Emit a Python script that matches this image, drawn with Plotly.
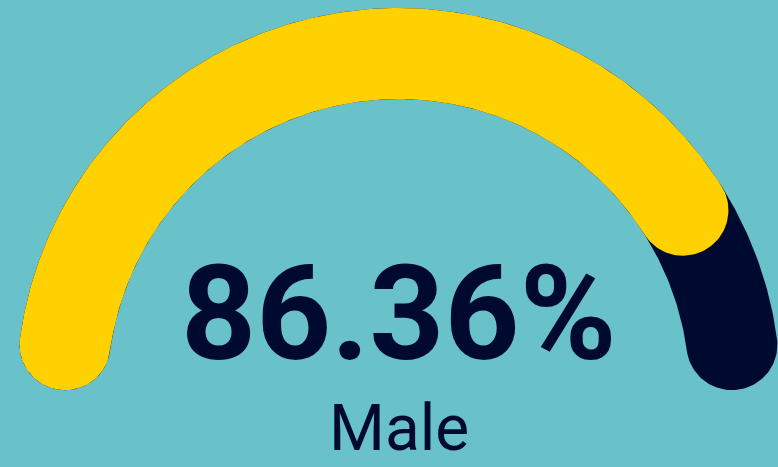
import numpy as np
import plotly.graph_objects as go

# ---- data ----
value_pct = 86.36
label = "Male"
value_text = f"{value_pct:.2f}%"
gauge_min, gauge_max = 0, 100

# ---- style ----
BG = "#69C2CA"
YELLOW = "#FFD100"
NAVY = "#000A30"

W, H = 778, 467
cx, cy = 398.5, 390.0          # gauge centre (pixel units)
r_mid, half = 336.5, 45.5      # band centre radius & half thickness
cap_ang = half / r_mid         # angular extent of a round cap


def band(a0, a1, n=240):
    """closed polygon of a rounded-cap arc band; cap centres at angles a0 -> a1 (clockwise)"""
    ro, ri = r_mid + half, r_mid - half
    t = np.linspace(a0, a1, n)
    xo, yo = ro * np.cos(t), ro * np.sin(t)
    s = np.linspace(0, np.pi, 60)
    u1 = np.array([np.cos(a1), np.sin(a1)])
    d1 = np.array([np.sin(a1), -np.cos(a1)])
    c1 = (r_mid * u1)[:, None] + half * (u1[:, None] * np.cos(s) + d1[:, None] * np.sin(s))
    xi, yi = ri * np.cos(t[::-1]), ri * np.sin(t[::-1])
    u0 = np.array([np.cos(a0), np.sin(a0)])
    d0 = np.array([np.sin(a0), -np.cos(a0)])
    c0 = (r_mid * u0)[:, None] + half * (-u0[:, None] * np.cos(s) - d0[:, None] * np.sin(s))
    x = np.concatenate([xo, c1[0], xi, c0[0]])
    y = np.concatenate([yo, c1[1], yi, c0[1]])
    return x, y


# 180° gauge; the rounded bar (caps included) covers frac * 180°
frac = (value_pct - gauge_min) / (gauge_max - gauge_min)
a_start = np.pi - cap_ang
a_track_end = cap_ang
a_val = np.pi - frac * np.pi + cap_ang

fig = go.Figure()
tx, ty = band(a_start, a_track_end)
fig.add_trace(go.Scatter(x=tx, y=ty, fill="toself", fillcolor=NAVY, mode="lines",
                         line=dict(width=0, color=NAVY), hoverinfo="skip", showlegend=False))
vx, vy = band(a_start, a_val)
fig.add_trace(go.Scatter(x=vx, y=vy, fill="toself", fillcolor=YELLOW, mode="lines",
                         line=dict(width=0, color=YELLOW), hoverinfo="skip", showlegend=False))

fig.add_annotation(x=0, y=cy - 313.5, xref="x", yref="y", text=f"<b>{value_text}</b>",
                   showarrow=False, xanchor="center", yanchor="middle",
                   font=dict(family="Roboto", size=131, color=NAVY, weight=900))
fig.add_annotation(x=0, y=cy - 428.5, xref="x", yref="y", text=label,
                   showarrow=False, xanchor="center", yanchor="middle",
                   font=dict(family="Roboto", size=64, color=NAVY))

fig.update_layout(
    width=W, height=H, margin=dict(l=0, r=0, t=0, b=0),
    paper_bgcolor=BG, plot_bgcolor=BG,
    xaxis=dict(range=[-cx, W - cx], visible=False, fixedrange=True),
    yaxis=dict(range=[cy - H, cy], visible=False, fixedrange=True),
)
fig.write_html("out.html", config={"displayModeBar": False},
               post_script="document.body.style.margin='0';document.body.style.overflow='hidden';"
                           "document.body.style.background='#69C2CA';")
